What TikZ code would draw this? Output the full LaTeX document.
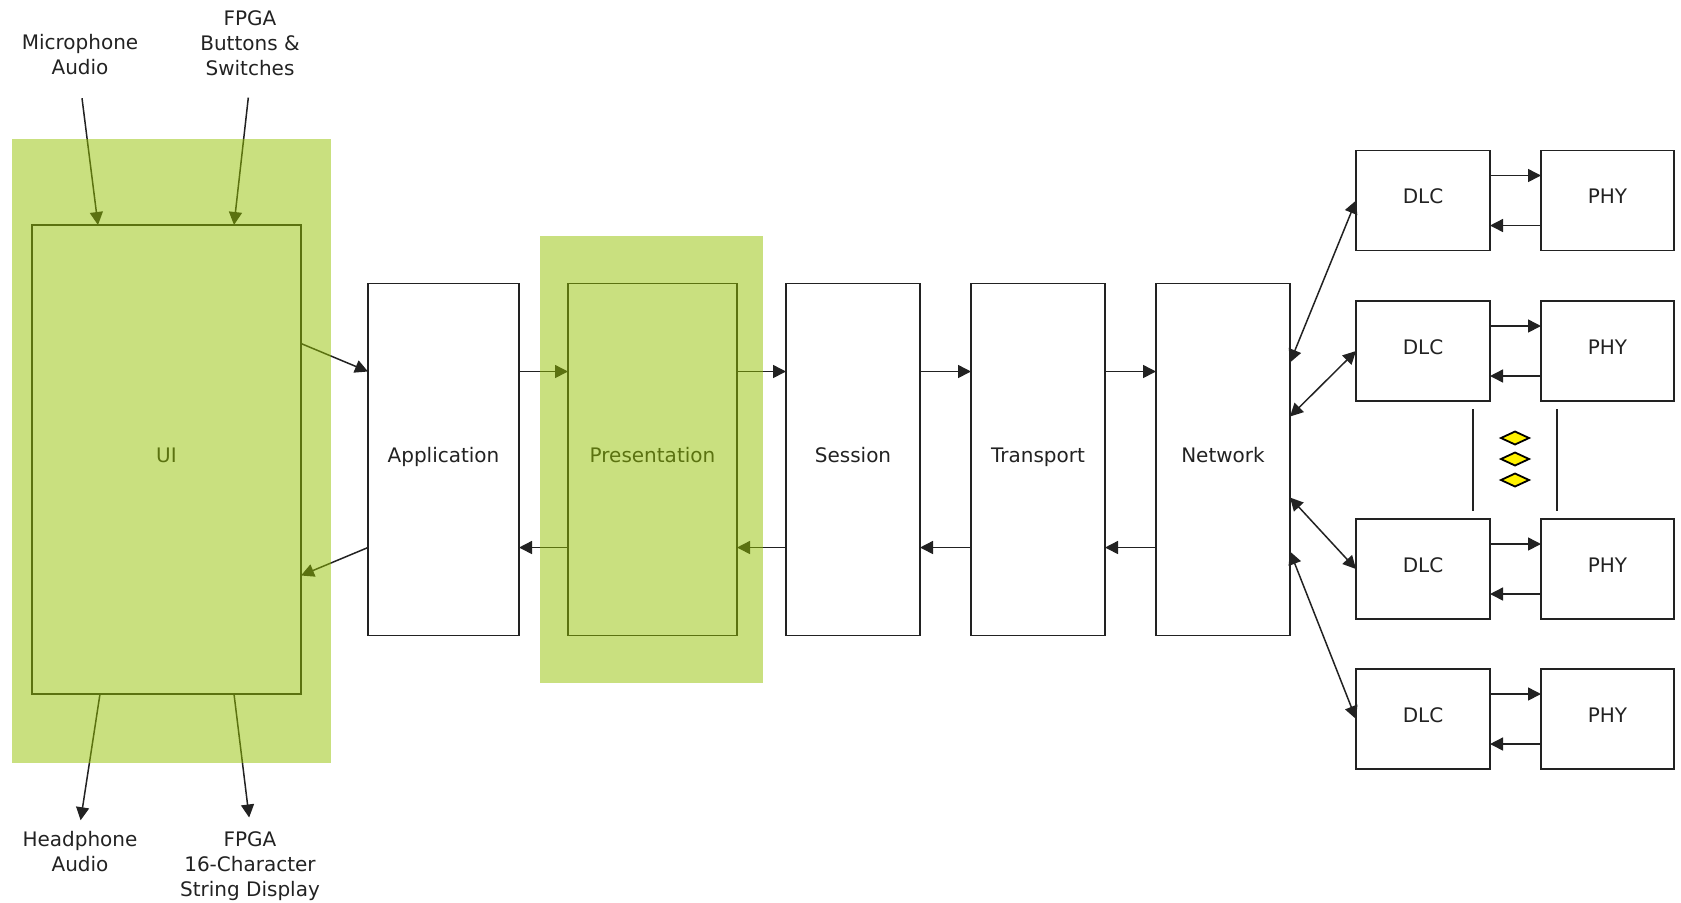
\documentclass[tikz,border=0pt]{standalone}
\usepackage{fontspec}
\setmainfont{DejaVu Sans}
\usetikzlibrary{arrows.meta, positioning}
\definecolor{layerline}{HTML}{222222}
\definecolor{overlaygreen}{RGB}{148,194,0}

\begin{document}
\begin{tikzpicture}[
    x=0.5pt, y=-0.5pt,
    node distance=24.5pt,
    font=\fontsize{10}{12.5}\selectfont,
    layer/.style={draw=layerline, line width=0.75pt, text=layerline, minimum width=67pt, minimum height=176pt, inner sep=0pt, outer sep=0pt, text height=7.5pt, text depth=4.5pt},
    link/.style={draw=layerline, line width=0.75pt, text=layerline, minimum width=67pt, minimum height=50pt, inner sep=0pt, outer sep=0pt, text height=7.5pt, text depth=4.5pt},
    flow/.style={-{Triangle[length=6.5pt, width=6.5pt]}, line width=0.75pt, draw=layerline},
    both/.style={{Triangle[length=6.5pt, width=6.5pt]}-{Triangle[length=6.5pt, width=6.5pt]}, line width=0.75pt, draw=layerline},
    iolabel/.style={align=center, text=layerline},
    highlight/.style={fill=overlaygreen, fill opacity=0.5}
]
    \useasboundingbox (0,0) rectangle (1681,902);

    % protocol stack
    \node[layer, minimum width=134.5pt, minimum height=234.5pt] (ui) at (166.5,459.5) {UI};
    \node[layer, minimum width=75.5pt, right=33.5pt of ui] (app) {Application};
    \node[layer, minimum width=84.5pt, right=of app] (pres) {Presentation};
    \node[layer, right=of pres] (ses) {Session};
    \node[layer, right=25.5pt of ses] (trans) {Transport};
    \node[layer, right=25.5pt of trans] (net) {Network};

    \draw[flow] ([yshift=58pt]ui.east) -- ([yshift=44pt]app.west);
    \draw[flow] ([yshift=-44pt]app.west) -- ([yshift=-58pt]ui.east);
    \foreach \a/\b in {app/pres, pres/ses, ses/trans, trans/net} {
        \draw[flow] ([yshift=44pt]\a.east) -- ([yshift=44pt]\b.west);
        \draw[flow] ([yshift=-44pt]\b.west) -- ([yshift=-44pt]\a.east);
    }

    % links
    \foreach \i/\y/\s in {1/200.5/48.5, 2/351/21.5, 3/569/-19, 4/719/-46} {
        \node[link] (dlc\i) at (1423,\y) {DLC};
        \node[link, minimum width=66.5pt, right=25.5pt of dlc\i] (phy\i) {PHY};
        \draw[flow] ([yshift=12.5pt]dlc\i.east) -- ([yshift=12.5pt]phy\i.west);
        \draw[flow] ([yshift=-12.5pt]phy\i.west) -- ([yshift=-12.5pt]dlc\i.east);
        \draw[both] ([yshift=\s pt]net.east) -- (dlc\i.west);
    }

    \draw[line width=0.75pt, draw=layerline] (1473,409) -- (1473,511);
    \draw[line width=0.75pt, draw=layerline] (1557,409) -- (1557,511);
    \foreach \y in {438,459,480}
        \draw[fill=yellow, line width=0.9pt] (1501,\y) -- (1515,{\y-6.5}) -- (1529,\y) -- (1515,{\y+6.5}) -- cycle;

    % inputs and outputs
    \node[iolabel] (mic) at (80,55) {Microphone\\Audio};
    \node[iolabel] (btn) at (250,43) {FPGA\\Buttons \&\\Switches};
    \node[iolabel] (hp) at (80,851.5) {Headphone\\Audio};
    \node[iolabel] (lcd) at (250,866) {FPGA\\16-Character\\String Display};

    \draw[flow, shorten <=8pt] (mic.south) -- ([xshift=-34.25pt]ui.north);
    \draw[flow, shorten <=7.5pt] (btn.south) -- ([xshift=33.75pt]ui.north);
    \draw[flow, shorten >=2pt] ([xshift=-33.25pt]ui.south) -- (hp.north);
    \draw[flow, shorten >=3.5pt] ([xshift=33.75pt]ui.south) -- (lcd.north);

    % highlighted layers
    \fill[highlight] (12,139) rectangle (331,763);
    \fill[highlight] (540,236) rectangle (763,683);
\end{tikzpicture}
\end{document}
